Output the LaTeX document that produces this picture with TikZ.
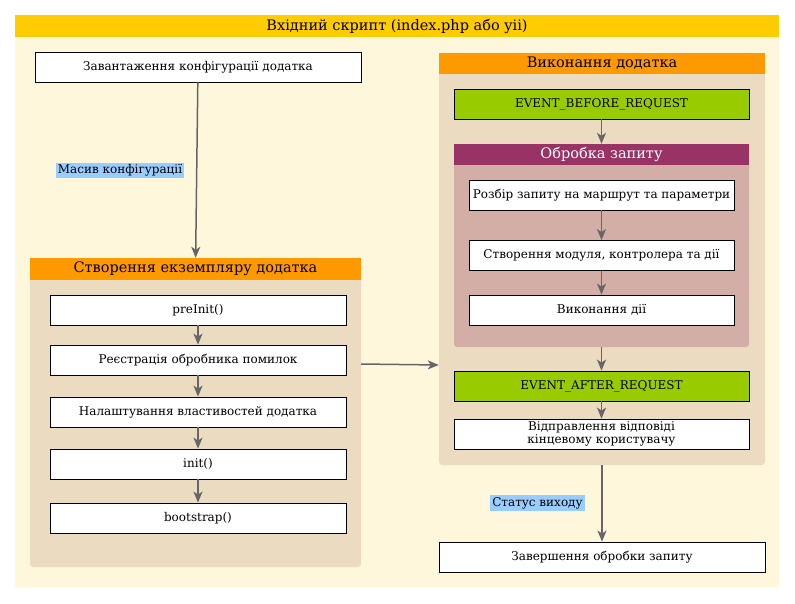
\documentclass[tikz,border=0pt]{standalone}
\usepackage{fontspec}
\setmainfont{DejaVu Serif}
\usetikzlibrary{arrows.meta,positioning}

\definecolor{scriptbar}{HTML}{FFCC00}
\definecolor{scriptbg}{HTML}{FFF7DB}
\definecolor{grouphead}{HTML}{FF9900}
\definecolor{groupbg}{HTML}{EBDBC1}
\definecolor{eventgreen}{HTML}{99CC00}
\definecolor{reqhead}{HTML}{993366}
\definecolor{reqbg}{HTML}{D2AEA6}
\definecolor{labelblue}{HTML}{99CCFF}
\definecolor{flowgray}{HTML}{666666}

\begin{document}
\begin{tikzpicture}[x=1pt, y=-1pt,
    stepbox/.style={rectangle, draw=black, fill=white, line width=0.8pt, inner sep=0pt,
                    minimum height=30pt, align=center, font=\fontsize{12}{12.5}\selectfont},
    headbar/.style={rectangle, inner sep=0pt, minimum height=22pt, font=\fontsize{14.5}{15}\selectfont},
    groupbody/.style={rectangle, rounded corners=3pt, inner sep=0pt, fill=groupbg},
    flowlabel/.style={rectangle, fill=labelblue, inner sep=2pt, font=\fontsize{12}{13}\selectfont},
    flow/.style={draw=flowgray, line width=1.5pt, -{Stealth[length=11pt,width=9pt,inset=3pt]}}]
\useasboundingbox (0,0) rectangle (795,603);

% Entry script frame
\fill[scriptbg] (15,37) rectangle (779,587);
\node[headbar, fill=scriptbar, minimum width=764pt] (script) at (397,26) {Вхідний скрипт (index.php або yii)};

\node[stepbox, minimum width=326pt] (load) at (198,67) {Завантаження конфігурації додатка};

% Application creation group
\node[groupbody, minimum width=331pt, minimum height=309pt] (createbody) at (195.5,412.5) {};
\node[headbar, fill=grouphead, minimum width=331pt] (createhead) at (195.5,269) {Створення екземпляру додатка};

\node[stepbox, minimum width=296pt] (preinit) at (198,310) {preInit()};
\node[stepbox, minimum width=296pt] (errreg) at (198,360) {Реєстрація обробника помилок};
\node[stepbox, minimum width=296pt] (props) at (198,412) {Налаштування властивостей додатка};
\node[stepbox, minimum width=296pt] (init) at (198,464) {init()};
\node[stepbox, minimum width=296pt] (boot) at (198,518) {bootstrap()};

% Application run group
\node[groupbody, minimum width=326pt, minimum height=412pt] (runbody) at (602,259) {};
\node[headbar, fill=grouphead, minimum width=326pt, minimum height=21pt] (runhead) at (602,63.5) {Виконання додатка};

\node[stepbox, fill=eventgreen, minimum width=295pt] (before) at (601.5,104) {EVENT\_BEFORE\_REQUEST};

% Request handling
\node[groupbody, fill=reqbg, minimum width=295pt, minimum height=203pt] (reqbody) at (601.5,245.5) {};
\node[headbar, fill=reqhead, text=white, minimum width=295pt, minimum height=21pt] (reqhead) at (601.5,154.5) {Обробка запиту};

\node[stepbox, minimum width=265pt] (parse) at (601.5,195) {Розбір запиту на маршрут та параметри};
\node[stepbox, minimum width=265pt] (mkctrl) at (601.5,255.5) {Створення модуля, контролера та дії};
\node[stepbox, minimum width=265pt] (action) at (601.5,310) {Виконання дії};

\node[stepbox, fill=eventgreen, minimum width=295pt] (after) at (601.5,386) {EVENT\_AFTER\_REQUEST};
\node[stepbox, minimum width=295pt] (send) at (601.5,434) {Відправлення відповіді\\кінцевому користувачу};

\node[stepbox, minimum width=326pt] (finish) at (602,557) {Завершення обробки запиту};

% Labels
\node[flowlabel] (cfglabel) at (120,170.5) {Масив конфігурації};
\node[flowlabel] (exitlabel) at (537.5,503) {Статус виходу};

% Connections
\draw[flow] (load) -- (createhead);
\draw[flow] (preinit) -- (errreg);
\draw[flow] (errreg) -- (props);
\draw[flow] (props) -- (init);
\draw[flow] (init) -- (boot);

\draw[flow] (createbody.east |- 0,364) -- (runbody.west |- 0,365);

\draw[flow] (before) -- (reqhead);
\draw[flow] (parse) -- (mkctrl);
\draw[flow] (mkctrl) -- (action);
\draw[flow] (reqbody) -- (after);
\draw[flow] (after) -- (send);
\draw[flow] (runbody) -- (finish);

\end{tikzpicture}
\end{document}
